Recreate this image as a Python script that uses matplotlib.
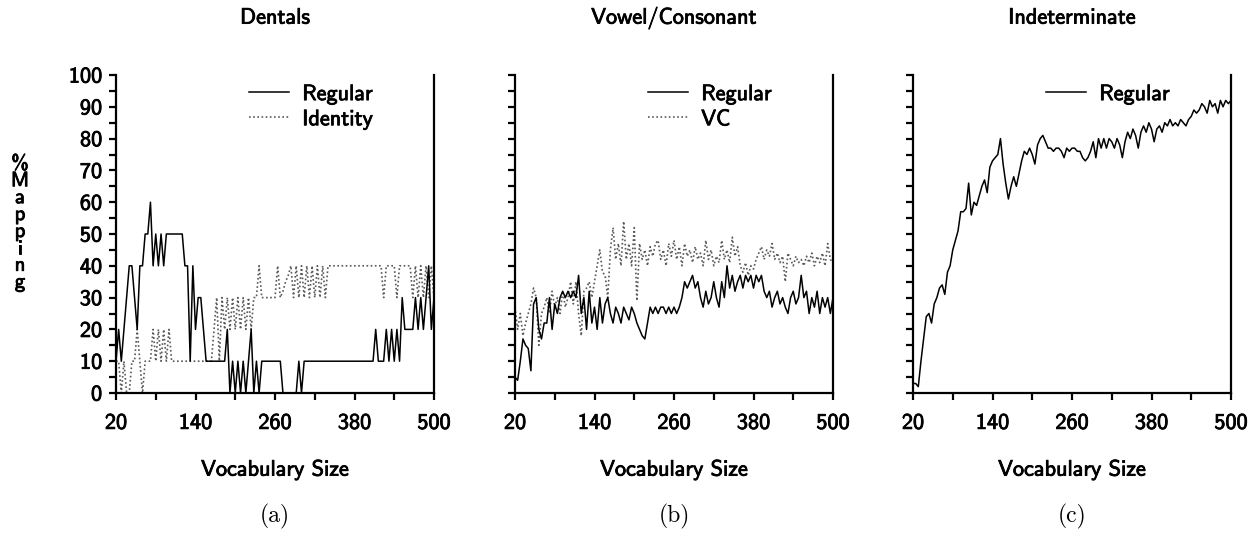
import numpy as np
import matplotlib
matplotlib.use("Agg")
import matplotlib.pyplot as plt
import matplotlib.patheffects as pe
from matplotlib.ticker import MultipleLocator

plt.rcParams['axes.unicode_minus'] = False

vocab = np.arange(20, 501, 4)

dentals_regular = [
    10, 20, 10, 20, 30, 40, 40, 30, 20, 40, 40, 50, 50, 60, 40, 50,
    40, 50, 40, 50, 50, 50, 50, 50, 50, 50, 40, 40, 10, 40, 20, 30,
    30, 20, 10, 10, 10, 10, 10, 10, 10, 10, 20, 0, 10, 0, 10, 0,
    10, 0, 10, 20, 0, 10, 0, 10, 10, 10, 10, 10, 10, 10, 10, 0,
    0, 0, 0, 0, 0, 10, 0, 10, 10, 10, 10, 10, 10, 10, 10, 10,
    10, 10, 10, 10, 10, 10, 10, 10, 10, 10, 10, 10, 10, 10, 10, 10,
    10, 10, 20, 10, 10, 10, 20, 10, 20, 10, 20, 10, 30, 20, 20, 20,
    20, 30, 20, 30, 20, 30, 40, 20, 30,
]
dentals_identity = [
    10, 10, 0, 10, 0, 0, 10, 10, 20, 10, 0, 10, 10, 10, 20, 10,
    20, 10, 20, 10, 20, 10, 10, 10, 10, 10, 10, 10, 10, 10, 10, 10,
    10, 10, 10, 10, 10, 20, 30, 10, 30, 20, 30, 20, 30, 20, 30, 20,
    30, 20, 30, 20, 30, 30, 40, 30, 30, 30, 30, 30, 30, 40, 30, 32,
    35, 37, 40, 30, 40, 30, 40, 30, 40, 30, 40, 30, 40, 30, 40, 30,
    40, 40, 40, 40, 40, 40, 40, 40, 40, 40, 40, 40, 40, 40, 40, 40,
    40, 40, 40, 40, 40, 30, 40, 40, 40, 40, 30, 40, 40, 40, 40, 40,
    30, 40, 30, 40, 30, 40, 30, 40, 30,
]
vc_regular = [
    5, 4, 10, 17, 15, 14, 7, 28, 30, 20, 17, 22, 22, 30, 20, 28,
    25, 30, 32, 30, 32, 30, 32, 30, 37, 25, 30, 20, 32, 22, 27, 20,
    30, 22, 28, 30, 25, 22, 27, 25, 22, 27, 25, 23, 27, 25, 22, 20,
    18, 17, 22, 27, 25, 27, 25, 27, 27, 25, 27, 25, 27, 25, 27, 30,
    35, 33, 35, 37, 33, 35, 30, 27, 32, 28, 30, 35, 30, 27, 35, 30,
    40, 33, 37, 32, 35, 37, 33, 37, 35, 37, 33, 37, 35, 37, 32, 30,
    32, 27, 30, 32, 28, 30, 27, 25, 30, 32, 28, 30, 37, 30, 32, 25,
    30, 27, 32, 25, 30, 27, 30, 25, 30,
]
vc_vc = [
    27, 20, 25, 18, 22, 25, 28, 33, 30, 15, 25, 27, 30, 25, 32, 27,
    30, 25, 32, 27, 30, 35, 28, 35, 25, 18, 32, 33, 35, 30, 35, 40,
    45, 38, 37, 30, 45, 52, 42, 47, 40, 54, 42, 47, 40, 52, 29, 47,
    42, 45, 40, 46, 43, 47, 48, 42, 45, 40, 47, 43, 48, 42, 46, 40,
    47, 43, 45, 41, 46, 42, 44, 40, 48, 42, 45, 40, 43, 41, 48, 42,
    45, 41, 49, 43, 46, 40, 38, 41, 37, 40, 39, 42, 44, 46, 42, 45,
    43, 47, 42, 44, 41, 43, 35, 44, 42, 40, 43, 41, 42, 40, 43, 41,
    44, 40, 43, 41, 44, 40, 47, 42, 41,
]
indet_regular = [
    3, 3, 2, 10, 17, 24, 25, 22, 28, 30, 33, 34, 31, 38, 40, 45,
    48, 51, 57, 57, 58, 66, 56, 60, 59, 62, 65, 67, 63, 71, 73, 74,
    75, 80, 72, 66, 61, 65, 68, 65, 69, 73, 76, 75, 77, 75, 72, 78,
    80, 81, 79, 77, 77, 76, 77, 77, 76, 74, 77, 76, 77, 77, 76, 76,
    74, 73, 74, 76, 79, 74, 80, 77, 80, 77, 80, 79, 77, 80, 78, 74,
    79, 82, 80, 83, 81, 77, 82, 84, 82, 85, 83, 79, 83, 84, 82, 85,
    84, 86, 84, 85, 84, 86, 85, 84, 86, 87, 89, 88, 89, 91, 90, 88,
    92, 90, 91, 88, 92, 90, 92, 91, 92,
]

for s in (dentals_regular, dentals_identity, vc_regular, vc_vc, indet_regular):
    assert len(s) == len(vocab), len(s)

titles = ["Dentals", "Vowel/Consonant", "Indeterminate"]
panel_tags = ["(a)", "(b)", "(c)"]
xtick_vals = list(range(20, 501, 60))
xtick_labels = [str(v) if (v - 20) % 120 == 0 else "" for v in xtick_vals]

SANS = "cmss10"
FS = 16
BOLD = [pe.withStroke(linewidth=0.6, foreground="black")]

fig = plt.figure(figsize=(12.52, 5.36), dpi=100)
lefts = [116 / 1252, 515 / 1252, 913 / 1252]
w = 318 / 1252
b = (536 - 393) / 536
h = 318 / 536

series = [
    [(dentals_regular, "Regular", dict(color="black", lw=1.1, ls="-")),
     (dentals_identity, "Identity", dict(color="0.35", lw=1.2, ls=(0, (1, 1.5))))],
    [(vc_regular, "Regular", dict(color="black", lw=1.1, ls="-")),
     (vc_vc, "VC", dict(color="0.35", lw=1.2, ls=(0, (1, 1.5))))],
    [(indet_regular, "Regular", dict(color="black", lw=1.1, ls="-"))],
]

for i in range(3):
    ax = fig.add_axes([lefts[i], b, w, h])
    for vals, lab, st in reversed(series[i]):
        ax.plot(vocab, vals, label=lab, **st)
    ax.set_xlim(20, 500)
    ax.set_ylim(0, 100)
    ax.spines['top'].set_visible(False)
    for sp in ('left', 'right', 'bottom'):
        ax.spines[sp].set_linewidth(1.6)
    ax.set_xticks(xtick_vals)
    ax.set_xticklabels(xtick_labels, fontfamily=SANS, fontsize=FS, path_effects=BOLD)
    ax.yaxis.set_major_locator(MultipleLocator(10))
    ax.yaxis.set_minor_locator(MultipleLocator(5))
    ax.tick_params(axis='both', which='both', direction='out', length=5, width=1.6)
    ax.tick_params(axis='x', pad=10)
    ax.tick_params(axis='y', pad=5)
    if i == 0:
        ax.set_yticks(range(0, 101, 10))
        ax.set_yticklabels([str(v) for v in range(0, 101, 10)], fontfamily=SANS,
                           fontsize=FS, path_effects=BOLD)
    else:
        ax.tick_params(axis='y', labelleft=False)
    ax.set_xlabel("Vocabulary Size", fontfamily=SANS, fontsize=FS, labelpad=20,
                  path_effects=BOLD)
    ax.set_title(titles[i], fontfamily=SANS, fontsize=FS, pad=37, path_effects=BOLD)
    handles, labels = ax.get_legend_handles_labels()
    leg = ax.legend(handles[::-1], labels[::-1], loc='upper left',
                    bbox_to_anchor=(0.418, 0.97), frameon=False,
                    borderpad=0, borderaxespad=0, handlelength=1.8,
                    handletextpad=0.6, labelspacing=0.25,
                    prop={'family': SANS, 'size': FS})
    for t in leg.get_texts():
        t.set_path_effects(BOLD)
    fig.text(lefts[i] + w / 2, (536 - 516) / 536, panel_tags[i],
             ha='center', va='center', fontfamily='cmr10', fontsize=17)

fig.text(20 / 1252, (536 - 223) / 536, "\n".join("%Mapping"), ha='center', va='center',
         fontfamily=SANS, fontsize=15, linespacing=0.86, path_effects=BOLD)

fig.savefig("out.png", dpi=100)
